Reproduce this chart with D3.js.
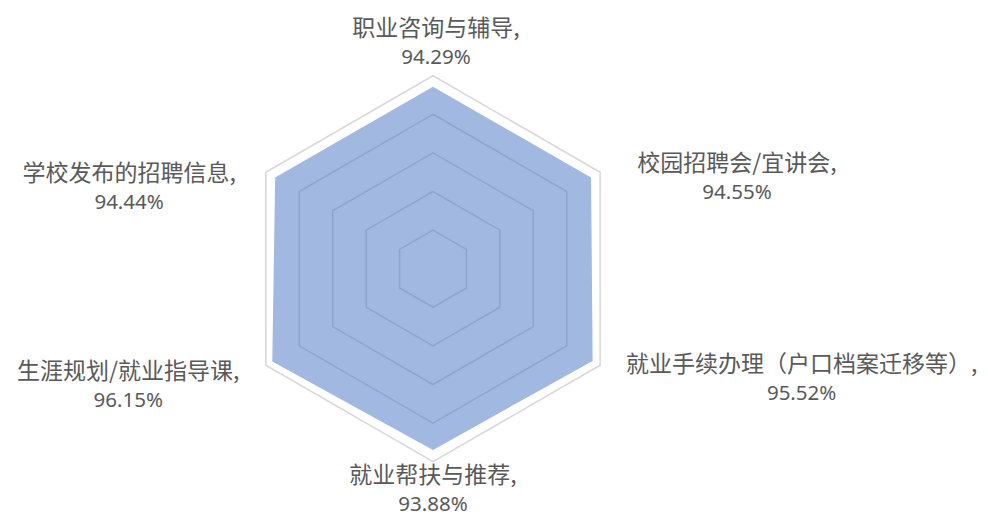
<!DOCTYPE html>
<html>
<head>
<meta charset="utf-8">
<script src="https://cdn.jsdelivr.net/npm/d3@7/dist/d3.min.js"></script>
<style>
  html, body { margin: 0; padding: 0; background: #ffffff; }
  svg { display: block; }
</style>
</head>
<body>
<svg id="chart" width="988" height="516"></svg>
<script>
// ---- data ----
const categories = [
  "职业咨询与辅导",
  "校园招聘会/宜讲会",
  "就业手续办理（户口档案迁移等）",
  "就业帮扶与推荐",
  "生涯规划/就业指导课",
  "学校发布的招聘信息"
];
const values = [0.9429, 0.9455, 0.9552, 0.9388, 0.9615, 0.9444];
const gridTicks = [0.2, 0.4, 0.6, 0.8, 1.0];

// ---- layout (label offsets from each data point: dx, dy to first-line baseline) ----
const labelOffsets = [[3, -51], [146, -6.5], [209, 11], [0, 33], [-144, 17.5], [-146, 3]];

const width = 988, height = 516;
const cx = 433, cy = 268.7, R = 193;

const svg = d3.select("#chart");
const r = d3.scaleLinear().domain([0, 1]).range([0, R]);
const n = categories.length;
const angle = d3.scaleLinear().domain([0, n]).range([-Math.PI / 2, 1.5 * Math.PI]);

const pt = (i, v) => [cx + r(v) * Math.cos(angle(i)), cy + r(v) * Math.sin(angle(i))];
const line = d3.line();

// grid rings
svg.append("g").selectAll("path")
  .data(gridTicks)
  .join("path")
  .attr("d", t => line(d3.range(n).map(i => pt(i, t))) + "Z")
  .attr("fill", "none")
  .attr("stroke", "#d9d9d9")
  .attr("stroke-width", 1.6);

// data polygon
svg.append("path")
  .datum(values)
  .attr("d", vs => line(vs.map((v, i) => pt(i, v))) + "Z")
  .attr("fill", "rgba(68,114,196,0.5)")
  .attr("stroke", "none");

// labels
const fmt = d3.format(".2%");
const lab = svg.append("g").selectAll("text")
  .data(values)
  .join("text")
  .attr("text-anchor", "middle")
  .attr("fill", "#595959")
  .each(function (v, i) {
    const [x, y] = pt(i, v);
    const [dx, dy] = labelOffsets[i];
    const t = d3.select(this);
    t.append("tspan")
      .attr("x", x + dx).attr("y", y + dy)
      .style("font-family", "'Noto Sans CJK SC', 'Noto Sans', sans-serif")
      .style("font-size", "23px")
      .text(categories[i] + ",");
    t.append("tspan")
      .attr("x", x + dx).attr("y", y + dy + 28.5)
      .style("font-family", "'Noto Sans', 'Open Sans', sans-serif")
      .style("font-size", "20.5px")
      .text(fmt(v));
  });
</script>
</body>
</html>
